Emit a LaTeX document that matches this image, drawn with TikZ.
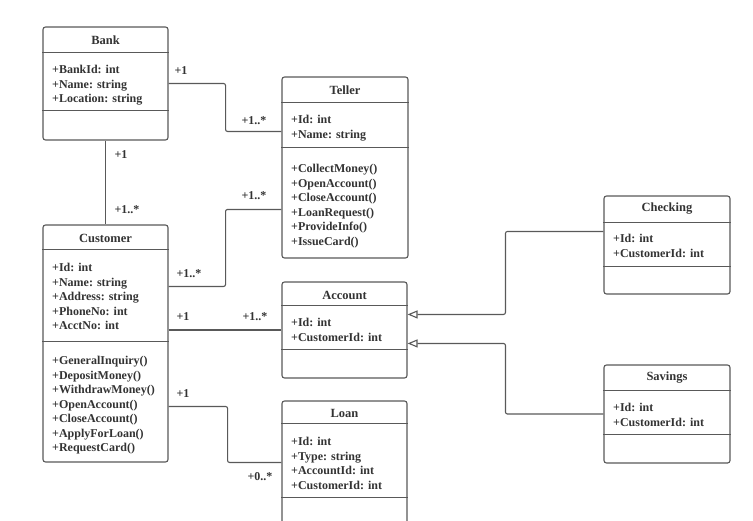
\documentclass[tikz,border=0pt]{standalone}
\usepackage{fontspec}
\setmainfont{Liberation Serif}
\usetikzlibrary{arrows.meta,calc}

\begin{document}
\begin{tikzpicture}[x=1pt,y=-1pt,
    cls/.style={draw=black!65, line width=1.1pt, rounded corners=2.5pt, fill=white, inner sep=0pt},
    ctitle/.style={font=\bfseries\fontsize{12.5}{14.5}\selectfont, text=black!80, inner sep=0pt},
    members/.style={anchor=north west, align=left, inner sep=0pt, font=\bfseries\fontsize{12}{14.5}\selectfont, text=black!80},
    sep/.style={draw=black!65, line width=1.1pt},
    link/.style={draw=black!65, line width=1.1pt, rounded corners=2pt},
    gen/.style={link, -{Triangle[open, length=10pt, width=8pt, fill=white]}},
    mult/.style={font=\bfseries\fontsize{12}{14.5}\selectfont, text=black!80, inner sep=0pt}]
    \path[use as bounding box, clip] (0,0) rectangle (753,520);

    % Bank
    \node[cls, minimum width=125, minimum height=113] (bank) at (105.5,83.5) {};
    \node[ctitle] (bankT) at (105.5,40) {Bank};
    \draw[sep] ([yshift=-26pt]bank.north west) -- ([yshift=-26pt]bank.north east)
               ([yshift=-84pt]bank.north west) -- ([yshift=-84pt]bank.north east);
    \node[members] (bankA) at (52,65) {+BankId: int\\+Name: string\\+Location: string};

    % Teller
    \node[cls, minimum width=126, minimum height=181] (teller) at (345,167.5) {};
    \node[ctitle] (tellerT) at (345,90) {Teller};
    \draw[sep] ([yshift=-26pt]teller.north west) -- ([yshift=-26pt]teller.north east)
               ([yshift=-71pt]teller.north west) -- ([yshift=-71pt]teller.north east);
    \node[members] (tellerA) at (291,115) {+Id: int\\+Name: string};
    \node[members] (tellerM) at (291,164) {+CollectMoney()\\+OpenAccount()\\+CloseAccount()\\+LoanRequest()\\+ProvideInfo()\\+IssueCard()};

    % Customer
    \node[cls, minimum width=125, minimum height=237] (customer) at (105.5,343.5) {};
    \node[ctitle] (customerT) at (105.5,238) {Customer};
    \draw[sep] ([yshift=-25pt]customer.north west) -- ([yshift=-25pt]customer.north east)
               ([yshift=-117pt]customer.north west) -- ([yshift=-117pt]customer.north east);
    \node[members] (customerA) at (52,263) {+Id: int\\+Name: string\\+Address: string\\+PhoneNo: int\\+AcctNo: int};
    \node[members] (customerM) at (52,356) {+GeneralInquiry()\\+DepositMoney()\\+WithdrawMoney()\\+OpenAccount()\\+CloseAccount()\\+ApplyForLoan()\\+RequestCard()};

    % Account
    \node[cls, minimum width=125, minimum height=96] (account) at (344.5,330) {};
    \node[ctitle] (accountT) at (344.5,295) {Account};
    \draw[sep] ([yshift=-24pt]account.north west) -- ([yshift=-24pt]account.north east)
               ([yshift=-68pt]account.north west) -- ([yshift=-68pt]account.north east);
    \node[members] (accountA) at (291,318) {+Id: int\\+CustomerId: int};

    % Loan
    \node[cls, minimum width=125, minimum height=127] (loan) at (344.5,464.5) {};
    \node[ctitle] (loanT) at (344.5,413) {Loan};
    \draw[sep] ([yshift=-23pt]loan.north west) -- ([yshift=-23pt]loan.north east)
               ([yshift=-97pt]loan.north west) -- ([yshift=-97pt]loan.north east);
    \node[members] (loanA) at (291,437) {+Id: int\\+Type: string\\+AccountId: int\\+CustomerId: int};

    % Checking
    \node[cls, minimum width=126, minimum height=98] (checking) at (667,245) {};
    \node[ctitle] (checkingT) at (667,209) {Checking};
    \draw[sep] ([yshift=-27pt]checking.north west) -- ([yshift=-27pt]checking.north east)
               ([yshift=-71pt]checking.north west) -- ([yshift=-71pt]checking.north east);
    \node[members] (checkingA) at (613,234) {+Id: int\\+CustomerId: int};

    % Savings
    \node[cls, minimum width=126, minimum height=98] (savings) at (667,414) {};
    \node[ctitle] (savingsT) at (667,378) {Savings};
    \draw[sep] ([yshift=-26pt]savings.north west) -- ([yshift=-26pt]savings.north east)
               ([yshift=-70pt]savings.north west) -- ([yshift=-70pt]savings.north east);
    \node[members] (savingsA) at (613,403) {+Id: int\\+CustomerId: int};

    % associations
    \draw[link] (bank.east) -- ++(57,0) |- ($(teller.north west)+(0,55)$);
    \draw[link] (bank.south) -- (customer.north);
    \draw[link] ($(customer.north east)+(0,62)$) -- ++(57,0) |- ($(teller.north west)+(0,133)$);
    \draw[link] (customer.east |- account.west) -- (account.west);
    \draw[link] ($(customer.north east)+(0,182)$) -- ++(59,0) |- ($(loan.north west)+(0,62)$);

    % generalisation
    \draw[gen] ($(checking.north west)+(0,36)$) -- ++(-98,0) |- ($(account.north east)+(0,33)$);
    \draw[gen] (savings.west) -- ++(-98,0) |- ($(account.north east)+(0,62)$);

    % multiplicities
    \node[mult] (m1) at (181,71) {+1};
    \node[mult] (m2) at (254,121) {+1..*};
    \node[mult] (m3) at (121,155) {+1};
    \node[mult] (m4) at (127,210) {+1..*};
    \node[mult] (m5) at (254,196) {+1..*};
    \node[mult] (m6) at (189,274) {+1..*};
    \node[mult] (m7) at (183,317) {+1};
    \node[mult] (m8) at (255,317) {+1..*};
    \node[mult] (m9) at (183,394) {+1};
    \node[mult] (m10) at (260,477) {+0..*};
\end{tikzpicture}
\end{document}
